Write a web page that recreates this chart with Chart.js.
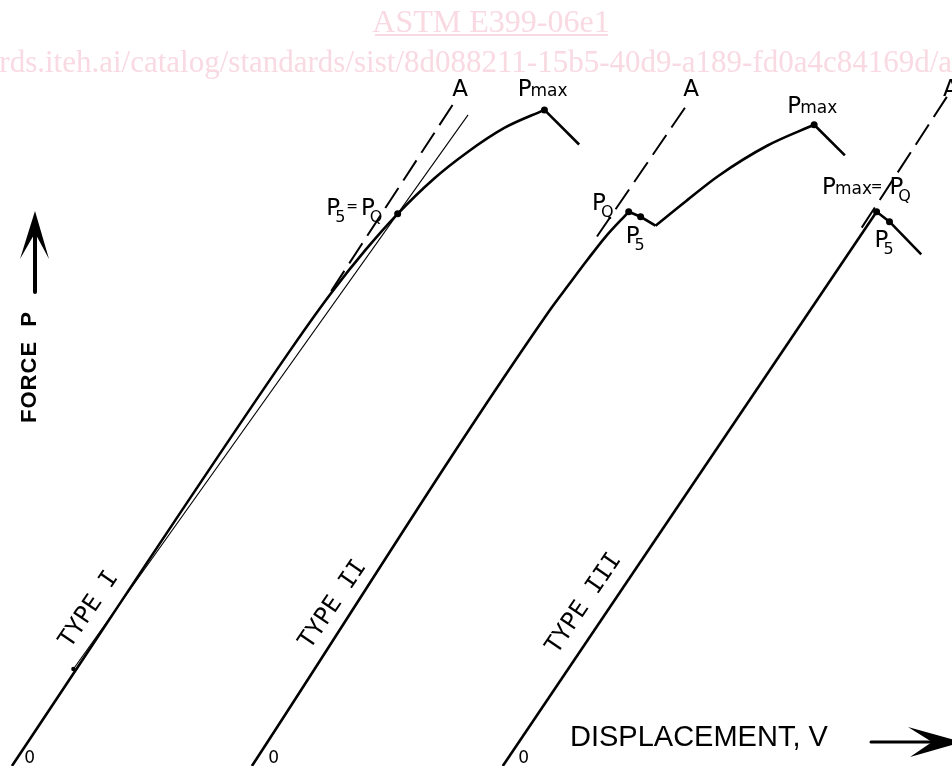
<!DOCTYPE html>
<html>
<head>
<meta charset="utf-8">
<script src="https://cdn.jsdelivr.net/npm/chart.js@4.4.1/dist/chart.umd.min.js"></script>
<style>
  html, body { margin: 0; padding: 0; background: #fff; }
  #wrap { width: 952px; height: 770px; position: relative; }
</style>
</head>
<body>
<div id="wrap"><canvas id="chart"></canvas></div>
<script>
// Displacement V (x) and force P (y), in drawing units

// Type I: smooth curve up to Pmax, then drop
const typeI_V = [8, 290, 330, 365, 397, 433, 467, 505, 545];
const typeI_P = [0, 422, 478, 522, 558, 593, 620, 645, 663];
const typeI_dropV = [545, 580];
const typeI_dropP = [663, 628];
const typeI_tangentV = [330, 455];   // line OA
const typeI_tangentP = [480, 672];
const typeI_secantV = [70, 468];     // 95 % secant
const typeI_secantP = [98, 658];

// Type II: rise, pop-in, second rise to Pmax, drop
const typeII_V = [250, 550, 570, 588, 606, 630];
const typeII_P = [0, 460, 487, 511, 534, 560];
const typeII_popV = [630, 642, 657];
const typeII_popP = [560, 555, 546];
const typeII_riseV = [657, 688, 720, 770, 817];
const typeII_riseP = [546, 571, 596, 627, 648];
const typeII_dropV = [817, 848];
const typeII_dropP = [648, 617];
const typeII_secantV = [598, 690];
const typeII_secantP = [535, 670];

// Type III: linear to Pmax = PQ, then drop
const typeIII_V = [503, 880];
const typeIII_P = [0, 560];
const typeIII_dropV = [880, 893, 925];
const typeIII_dropP = [560, 550, 517];
const typeIII_secantV = [865, 965];
const typeIII_secantP = [544, 698];

// marked points (P5, PQ, Pmax)
const dotV = [397, 545, 630, 642, 817, 880, 893];
const dotP = [558, 663, 560, 555, 648, 560, 550];

const pts = (vs, ps) => vs.map((v, i) => ({ x: v, y: ps[i] }));

const solid = (vs, ps, smooth) => ({
    data: pts(vs, ps),
    showLine: true,
    borderColor: '#000',
    borderWidth: 2.6,
    pointRadius: 0,
    cubicInterpolationMode: smooth ? 'monotone' : 'default',
    tension: 0
});
const dashed = (vs, ps) => ({
    data: pts(vs, ps),
    showLine: true,
    borderColor: '#000',
    borderWidth: 2,
    borderDash: [24, 9],
    pointRadius: 0
});

// labels: left x, baseline (same units as the data)
const pLabels = [
    { v: 518, p: 677, sub: 'max' },
    { v: 325, p: 557, sub: '5' },
    { v: 360, p: 557, sub: 'Q' },
    { v: 593, p: 562, sub: 'Q' },
    { v: 627, p: 528, sub: '5' },
    { v: 790, p: 660, sub: 'max' },
    { v: 825, p: 578, sub: 'max' },
    { v: 893, p: 578, sub: 'Q' },
    { v: 878, p: 524, sub: '5' }
];
const eqLabels = [
    { v: 351, p: 561 },
    { v: 880, p: 581 }
];
const aLabels = [
    { v: 460, p: 683 },
    { v: 693, p: 683 },
    { v: 955, p: 683 }
];
const zeroLabels = [
    { v: 26, p: 7 },
    { v: 272, p: 7 },
    { v: 524, p: 8 }
];
const typeLabels = [
    { v: 86, p: 158, text: 'TYPE I' },
    { v: 332, p: 163, text: 'TYPE II' },
    { v: 585, p: 164, text: 'TYPE III' }
];

const textPlugin = {
    id: 'figureText',
    beforeDatasetsDraw(chart) {
        const ctx = chart.ctx;
        ctx.save();
        ctx.fillStyle = '#f9d9e2';
        ctx.strokeStyle = '#f9d9e2';
        ctx.font = '32px "Liberation Serif"';
        ctx.textAlign = 'center';
        ctx.fillText('ASTM E399-06e1', 491, 32);
        ctx.lineWidth = 2;
        ctx.beginPath();
        ctx.moveTo(375, 35);
        ctx.lineTo(608, 35);
        ctx.stroke();
        ctx.textAlign = 'left';
        ctx.font = '31px "Liberation Serif"';
        const url = 'https://standards.iteh.ai/catalog/standards/sist/8d088211-15b5-40d9-a189-fd0a4c84169d/astm-e399-06e1';
        const pre = ctx.measureText('https://standards.iteh.ai/catalog/standards/sist/').width;
        ctx.fillText(url, 404 - pre, 72);
        ctx.restore();
    },
    afterDatasetsDraw(chart) {
        const ctx = chart.ctx;
        const px = v => chart.scales.x.getPixelForValue(v);
        const py = p => chart.scales.y.getPixelForValue(p);
        ctx.save();
        ctx.fillStyle = '#000';
        ctx.strokeStyle = '#000';
        ctx.textBaseline = 'alphabetic';

        // P labels with subscripts
        pLabels.forEach(l => {
            let x = px(l.v), y = py(l.p);
            ctx.font = '23px "DejaVu Sans"';
            ctx.textAlign = 'left';
            ctx.fillText('P', x, y);
            x += ctx.measureText('P').width - 1;
            if (l.sub === 'max') {
                ctx.font = '17px "DejaVu Sans"';
                ctx.fillText('max', x, y);
            } else {
                ctx.font = '16px "DejaVu Sans"';
                ctx.fillText(l.sub, x - 4, y + 7);
            }
        });
        ctx.font = '14px "DejaVu Sans"';
        ctx.textAlign = 'center';
        eqLabels.forEach(l => ctx.fillText('=', px(l.v), py(l.p)));

        ctx.font = '23px "DejaVu Sans"';
        ctx.textBaseline = 'middle';
        aLabels.forEach(l => ctx.fillText('A', px(l.v), py(l.p)));

        ctx.font = '17px "DejaVu Sans"';
        zeroLabels.forEach(l => ctx.fillText('0', px(l.v), py(l.p)));

        // TYPE labels along the curves
        ctx.font = '24px "DejaVu Sans Mono"';
        typeLabels.forEach(l => {
            ctx.save();
            ctx.translate(px(l.v), py(l.p));
            ctx.rotate(-56 * Math.PI / 180);
            ctx.fillText(l.text, 0, 0);
            ctx.restore();
        });

        // axis titles
        ctx.save();
        ctx.translate(30, 367);
        ctx.rotate(-Math.PI / 2);
        ctx.font = 'bold 22px "Liberation Sans"';
        ctx.letterSpacing = '1px';
        ctx.fillText('FORCE  P', 0, 0);
        ctx.restore();

        ctx.font = '29px "Liberation Sans"';
        ctx.textAlign = 'left';
        ctx.textBaseline = 'alphabetic';
        ctx.fillText('DISPLACEMENT, V', 570, 746);

        // force arrow
        ctx.lineWidth = 4;
        ctx.lineCap = 'round';
        ctx.beginPath();
        ctx.moveTo(35, 292);
        ctx.lineTo(35, 222);
        ctx.stroke();
        ctx.beginPath();
        ctx.moveTo(35, 211);
        ctx.lineTo(20, 259);
        ctx.lineTo(35, 233);
        ctx.lineTo(49, 259);
        ctx.closePath();
        ctx.fill();

        // displacement arrow
        ctx.lineWidth = 3;
        ctx.beginPath();
        ctx.moveTo(871, 742);
        ctx.lineTo(940, 742);
        ctx.stroke();
        ctx.beginPath();
        ctx.moveTo(962, 742);
        ctx.lineTo(908, 727);
        ctx.lineTo(932, 742);
        ctx.lineTo(910, 757);
        ctx.closePath();
        ctx.fill();
        ctx.restore();
    }
};

new Chart(document.getElementById('chart'), {
    type: 'scatter',
    data: {
        datasets: [
            solid(typeI_V, typeI_P, true),
            solid(typeI_dropV, typeI_dropP, false),
            dashed(typeI_tangentV, typeI_tangentP),
            {
                data: pts(typeI_secantV, typeI_secantP),
                showLine: true,
                borderColor: '#000',
                borderWidth: 1.1,
                pointRadius: 0
            },
            solid(typeII_V, typeII_P, true),
            solid(typeII_popV, typeII_popP, false),
            solid(typeII_riseV, typeII_riseP, true),
            solid(typeII_dropV, typeII_dropP, false),
            dashed(typeII_secantV, typeII_secantP),
            solid(typeIII_V, typeIII_P, false),
            solid(typeIII_dropV, typeIII_dropP, false),
            dashed(typeIII_secantV, typeIII_secantP),
            {
                data: pts(dotV, dotP),
                showLine: false,
                pointRadius: 3.5,
                pointBackgroundColor: '#000',
                pointBorderWidth: 0
            },
            {
                data: [{ x: 70, y: 98 }],
                showLine: false,
                pointRadius: 2.2,
                pointBackgroundColor: '#000',
                pointBorderWidth: 0
            }
        ]
    },
    options: {
        responsive: true,
        maintainAspectRatio: false,
        animation: false,
        layout: { padding: 0 },
        scales: {
            x: { type: 'linear', min: 0, max: 952, display: false },
            y: { type: 'linear', min: 0, max: 770, display: false }
        },
        plugins: {
            legend: { display: false },
            tooltip: { enabled: false }
        }
    },
    plugins: [textPlugin]
});
</script>
</body>
</html>
